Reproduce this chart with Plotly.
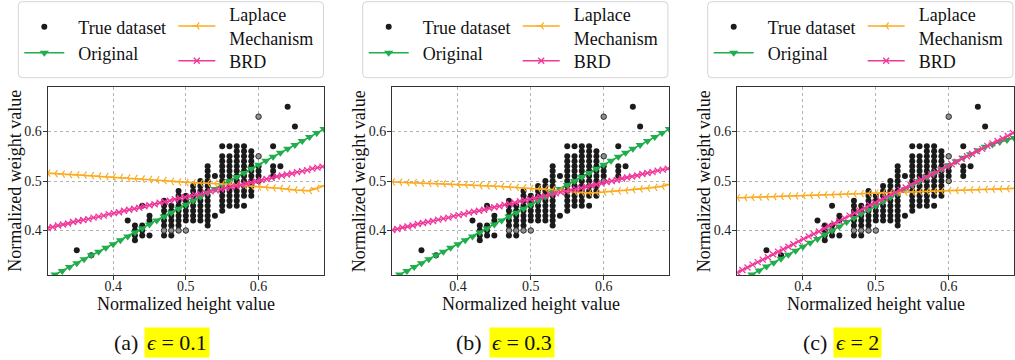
import plotly.graph_objects as go

# ---------------- data ----------------
true_height = [
    0.35, 0.37, 0.42,
    0.43, 0.43, 0.43, 0.43,
    0.44, 0.44, 0.44, 0.44,
    0.45, 0.45, 0.45,
    0.47, 0.47, 0.47, 0.47, 0.47, 0.47, 0.47,
    0.48, 0.48, 0.48, 0.48, 0.48, 0.48,
    0.49, 0.49, 0.49, 0.49, 0.49, 0.49, 0.49, 0.49,
    0.50, 0.50, 0.50, 0.50, 0.50, 0.50,
    0.51, 0.51, 0.51, 0.51, 0.51, 0.51, 0.51, 0.51,
    0.52, 0.52, 0.52, 0.52, 0.52, 0.52, 0.52, 0.52, 0.52,
    0.53, 0.53, 0.53, 0.53, 0.53, 0.53, 0.53, 0.53, 0.53, 0.53, 0.53, 0.53, 0.53,
    0.54, 0.54,
    0.55, 0.55, 0.55, 0.55, 0.55, 0.55, 0.55, 0.55, 0.55, 0.55, 0.55, 0.55, 0.55,
    0.56, 0.56, 0.56, 0.56, 0.56, 0.56, 0.56, 0.56, 0.56, 0.56, 0.56, 0.56,
    0.57, 0.57, 0.57, 0.57, 0.57, 0.57, 0.57, 0.57, 0.57, 0.57, 0.57, 0.57, 0.57,
    0.58, 0.58, 0.58, 0.58, 0.58, 0.58, 0.58, 0.58, 0.58, 0.58, 0.58, 0.58,
    0.59, 0.59, 0.59, 0.59, 0.59, 0.59, 0.59, 0.59, 0.59, 0.59,
    0.60, 0.60, 0.60,
    0.62, 0.62, 0.62, 0.62,
    0.63, 0.64, 0.65,
]
true_weight = [
    0.36, 0.35, 0.42,
    0.38, 0.39, 0.40, 0.41,
    0.39, 0.40, 0.41, 0.45,
    0.39, 0.42, 0.43,
    0.39, 0.41, 0.42, 0.43, 0.44, 0.45, 0.46,
    0.39, 0.41, 0.42, 0.43, 0.44, 0.45,
    0.41, 0.42, 0.43, 0.44, 0.45, 0.46, 0.47, 0.48,
    0.42, 0.43, 0.44, 0.45, 0.46, 0.47,
    0.42, 0.43, 0.44, 0.45, 0.46, 0.47, 0.48, 0.49,
    0.42, 0.43, 0.44, 0.45, 0.46, 0.47, 0.48, 0.49, 0.50,
    0.41, 0.42, 0.43, 0.44, 0.45, 0.46, 0.47, 0.48, 0.49, 0.50, 0.51, 0.52, 0.53,
    0.43, 0.51,
    0.44, 0.45, 0.46, 0.47, 0.48, 0.49, 0.50, 0.51, 0.52, 0.53, 0.54, 0.55, 0.57,
    0.45, 0.46, 0.47, 0.48, 0.49, 0.50, 0.51, 0.52, 0.53, 0.54, 0.55, 0.57,
    0.45, 0.46, 0.47, 0.48, 0.49, 0.50, 0.51, 0.52, 0.53, 0.54, 0.55, 0.56, 0.57,
    0.45, 0.47, 0.48, 0.49, 0.50, 0.51, 0.52, 0.53, 0.54, 0.55, 0.56, 0.57,
    0.47, 0.48, 0.49, 0.50, 0.51, 0.52, 0.53, 0.54, 0.55, 0.56,
    0.51, 0.52, 0.53,
    0.51, 0.52, 0.53, 0.57,
    0.53, 0.65, 0.61,
]
# points that appear only once (drawn lighter in the reference)
single_height = [0.47, 0.48, 0.49, 0.50, 0.60, 0.60, 0.60]
single_weight = [0.40, 0.40, 0.40, 0.40, 0.50, 0.55, 0.63]

grid_x = [0.31, 0.32, 0.33, 0.34, 0.35, 0.36, 0.37, 0.38, 0.39, 0.40,
          0.41, 0.42, 0.43, 0.44, 0.45, 0.46, 0.47, 0.48, 0.49, 0.50,
          0.51, 0.52, 0.53, 0.54, 0.55, 0.56, 0.57, 0.58, 0.59, 0.60,
          0.61, 0.62, 0.63, 0.64, 0.65, 0.66, 0.67, 0.68, 0.69]

original_ab = [0.303, 0.311, 0.318, 0.326, 0.334, 0.342, 0.350, 0.357, 0.365, 0.372,
               0.380, 0.388, 0.396, 0.404, 0.412, 0.420, 0.428, 0.436, 0.444, 0.452,
               0.460, 0.468, 0.476, 0.484, 0.492, 0.500, 0.508, 0.516, 0.525, 0.533,
               0.541, 0.549, 0.557, 0.565, 0.573, 0.581, 0.589, 0.597, 0.605]
original_c = [0.295, 0.303, 0.311, 0.319, 0.327, 0.335, 0.343, 0.351, 0.359, 0.367,
              0.375, 0.383, 0.392, 0.400, 0.408, 0.417, 0.425, 0.434, 0.442, 0.450,
              0.458, 0.467, 0.475, 0.483, 0.492, 0.500, 0.508, 0.516, 0.524, 0.532,
              0.540, 0.547, 0.554, 0.562, 0.569, 0.574, 0.579, 0.583, 0.587]

laplace_a = [0.516, 0.515, 0.514, 0.513, 0.5125, 0.512, 0.511, 0.510, 0.509, 0.508,
             0.507, 0.506, 0.505, 0.504, 0.503, 0.502, 0.501, 0.499, 0.498, 0.497,
             0.4965, 0.496, 0.4955, 0.495, 0.494, 0.493, 0.492, 0.491, 0.489, 0.488,
             0.487, 0.486, 0.485, 0.484, 0.482, 0.481, 0.4805, 0.485, 0.490]
laplace_b = [0.498, 0.4975, 0.497, 0.4965, 0.496, 0.4955, 0.495, 0.4945, 0.494, 0.493,
             0.4925, 0.492, 0.491, 0.4905, 0.490, 0.489, 0.488, 0.487, 0.486, 0.485,
             0.4845, 0.484, 0.483, 0.481, 0.480, 0.478, 0.4765, 0.476, 0.4765, 0.4775,
             0.479, 0.480, 0.481, 0.4825, 0.484, 0.4855, 0.487, 0.489, 0.493]
laplace_c = [0.4660, 0.4665, 0.4670, 0.4675, 0.4680, 0.4685, 0.4690, 0.4695, 0.4700, 0.4705,
             0.4710, 0.4715, 0.4720, 0.4725, 0.4730, 0.4735, 0.4740, 0.4745, 0.4750, 0.4755,
             0.4760, 0.4765, 0.4770, 0.4775, 0.4780, 0.4785, 0.4790, 0.4795, 0.4800, 0.4805,
             0.4810, 0.4815, 0.4820, 0.4825, 0.4830, 0.4835, 0.4840, 0.4845, 0.4850]

brd_x = [0.310, 0.317, 0.324, 0.331, 0.338, 0.345, 0.352, 0.359, 0.366, 0.373,
         0.380, 0.387, 0.394, 0.401, 0.408, 0.415, 0.422, 0.429, 0.436, 0.443,
         0.450, 0.457, 0.464, 0.471, 0.478, 0.485, 0.492, 0.499, 0.506, 0.513,
         0.520, 0.527, 0.534, 0.541, 0.548, 0.555, 0.562, 0.569, 0.576, 0.583,
         0.590, 0.597, 0.604, 0.611, 0.618, 0.625, 0.632, 0.639, 0.646, 0.653,
         0.660, 0.667, 0.674, 0.681, 0.688]
brd_a = [0.405, 0.407, 0.410, 0.412, 0.414, 0.417, 0.419, 0.421, 0.423, 0.426,
         0.428, 0.430, 0.433, 0.435, 0.437, 0.440, 0.442, 0.444, 0.446, 0.449,
         0.451, 0.453, 0.456, 0.458, 0.460, 0.463, 0.465, 0.467, 0.469, 0.472,
         0.474, 0.476, 0.479, 0.481, 0.483, 0.486, 0.488, 0.490, 0.492, 0.495,
         0.497, 0.499, 0.502, 0.504, 0.506, 0.509, 0.511, 0.513, 0.515, 0.518,
         0.520, 0.522, 0.525, 0.527, 0.529]
brd_b = [0.401, 0.403, 0.406, 0.408, 0.410, 0.413, 0.415, 0.417, 0.419, 0.422,
         0.424, 0.426, 0.429, 0.431, 0.433, 0.436, 0.438, 0.440, 0.442, 0.445,
         0.447, 0.449, 0.452, 0.454, 0.456, 0.459, 0.461, 0.463, 0.465, 0.468,
         0.470, 0.472, 0.475, 0.477, 0.479, 0.482, 0.484, 0.486, 0.488, 0.491,
         0.493, 0.495, 0.498, 0.500, 0.502, 0.505, 0.507, 0.509, 0.511, 0.514,
         0.516, 0.518, 0.521, 0.523, 0.525]
brd_c = [0.315, 0.320, 0.325, 0.331, 0.336, 0.341, 0.346, 0.352, 0.357, 0.362,
         0.367, 0.372, 0.378, 0.383, 0.388, 0.393, 0.398, 0.404, 0.409, 0.414,
         0.419, 0.425, 0.430, 0.435, 0.440, 0.445, 0.451, 0.456, 0.461, 0.466,
         0.472, 0.477, 0.482, 0.487, 0.492, 0.498, 0.503, 0.508, 0.513, 0.518,
         0.524, 0.529, 0.534, 0.539, 0.545, 0.550, 0.555, 0.560, 0.565, 0.571,
         0.576, 0.581, 0.586, 0.591, 0.597]

tick_vals = [0.4, 0.5, 0.6]
tick_text = ["0.4", "0.5", "0.6"]
x_title = "Normalized height value"
y_title = "Normalized weight value"
caption_tags = ["(a)", "(b)", "(c)"]
eps_values = ["0.1", "0.3", "2"]

assert len(true_height) == len(true_weight)

# ---------------- styling ----------------
W, H = 1015, 360
FONT = "Liberation Serif"
GREEN = "#1fae4b"
ORANGE = "#fbab1f"
PINK = "#f2369a"
DOT = "#1b1b1b"
NB = "\u00a0\u00a0"

plot_px = [(47.7, 324.0), (392.3, 669.3), (737.3, 1014.3)]
top_px, bot_px = 87.0, 275.0
panel_off = [0.0, 344.4, 689.4]


def PX(v):
    return v / W


def PY(v):
    return 1 - v / H


def rounded_box(x0, y0, x1, y1, r=4):
    p = (f"M{PX(x0 + r)},{PY(y0)} L{PX(x1 - r)},{PY(y0)} "
         f"Q{PX(x1)},{PY(y0)} {PX(x1)},{PY(y0 + r)} "
         f"L{PX(x1)},{PY(y1 - r)} Q{PX(x1)},{PY(y1)} {PX(x1 - r)},{PY(y1)} "
         f"L{PX(x0 + r)},{PY(y1)} Q{PX(x0)},{PY(y1)} {PX(x0)},{PY(y1 - r)} "
         f"L{PX(x0)},{PY(y0 + r)} Q{PX(x0)},{PY(y0)} {PX(x0 + r)},{PY(y0)} Z")
    return p


def legname(k):
    return "legend" if k == 1 else f"legend{k}"


fig = go.Figure()
layout = dict(
    width=W, height=H,
    margin=dict(l=0, r=0, t=0, b=0, autoexpand=False),
    paper_bgcolor="white", plot_bgcolor="white",
    font=dict(family=FONT, color="#111"),
    shapes=[], annotations=[],
)

originals = [original_ab, original_ab, original_c]
laplaces = [laplace_a, laplace_b, laplace_c]
brds = [brd_a, brd_b, brd_c]

for i in range(3):
    suf = "" if i == 0 else str(i + 1)
    xa, ya = "x" + suf, "y" + suf
    base = 4 * i
    off = panel_off[i]

    fig.add_trace(go.Scatter(
        x=true_height, y=true_weight, mode="markers", xaxis=xa, yaxis=ya,
        marker=dict(size=6, color=DOT), name=NB + "True dataset",
        legend=legname(base + 1)))
    fig.add_trace(go.Scatter(
        x=single_height, y=single_weight, mode="markers", xaxis=xa, yaxis=ya,
        marker=dict(size=5.5, color="#8e8e8e", line=dict(color="#2a2a2a", width=1)),
        showlegend=False, name="True dataset"))
    fig.add_trace(go.Scatter(
        x=grid_x, y=originals[i], mode="lines+markers", xaxis=xa, yaxis=ya,
        line=dict(color=GREEN, width=1.5),
        marker=dict(symbol="triangle-down", size=8, color=GREEN),
        name=NB + "Original", legend=legname(base + 2)))
    fig.add_trace(go.Scatter(
        x=grid_x, y=laplaces[i], mode="lines+markers", xaxis=xa, yaxis=ya,
        line=dict(color=ORANGE, width=1.5),
        marker=dict(symbol="y-left", size=6, color=ORANGE,
                    line=dict(color=ORANGE, width=1.2)),
        name=NB + "Laplace<br>" + NB + "Mechanism", legend=legname(base + 3)))
    fig.add_trace(go.Scatter(
        x=brd_x, y=brds[i], mode="lines+markers", xaxis=xa, yaxis=ya,
        line=dict(color=PINK, width=1.5),
        marker=dict(symbol="x-thin", size=6, color=PINK,
                    line=dict(color=PINK, width=1.3)),
        name=NB + "BRD", legend=legname(base + 4)))

    l, r = plot_px[i]
    axis_common = dict(
        range=[0.31, 0.69], tickvals=tick_vals, ticktext=tick_text,
        ticks="outside", ticklen=4, tickwidth=1, tickcolor="#333",
        showline=True, linecolor="#333", linewidth=1.3, mirror=True,
        showgrid=True, gridcolor="#b3b3b3", griddash="dot", gridwidth=1,
        zeroline=False, tickfont=dict(family=FONT, size=14, color="#222"),
    )
    layout["xaxis" + suf] = dict(
        axis_common, domain=[PX(l), PX(r)], anchor=ya, ticklabelstandoff=-6)
    layout["yaxis" + suf] = dict(
        axis_common, domain=[PY(bot_px), PY(top_px)], anchor=xa,
        ticklabelstandoff=-2)

    # axis titles as text placed beside the panel
    layout["annotations"].append(dict(
        xref="paper", yref="paper", x=PX((l + r) / 2), y=PY(303.5),
        xanchor="center", yanchor="middle", showarrow=False, text=x_title,
        borderpad=0, font=dict(family=FONT, size=18, color="#111")))
    layout["annotations"].append(dict(
        xref="paper", yref="paper", x=PX(l - 33), y=PY((top_px + bot_px) / 2),
        xanchor="center", yanchor="middle", showarrow=False, text=y_title,
        textangle=-90, borderpad=0, font=dict(family=FONT, size=18, color="#111")))

    # legend frame
    bx = 18.3 + off
    layout["shapes"].append(dict(
        type="path", xref="paper", yref="paper", layer="below",
        path=rounded_box(bx, 1.7, bx + 305.2, 77.7, r=4),
        line=dict(color="#d4d4d4", width=1), fillcolor="white"))

    leg_common = dict(xanchor="left", yanchor="middle", bgcolor="rgba(0,0,0,0)",
                      borderwidth=0, orientation="v",
                      font=dict(family=FONT, size=18, color="#111"))
    layout[legname(base + 1)] = dict(leg_common, x=PX(bx + 1), y=PY(27), itemwidth=40)
    layout[legname(base + 2)] = dict(leg_common, x=PX(bx + 1), y=PY(53), itemwidth=40)
    layout[legname(base + 3)] = dict(leg_common, x=PX(bx + 155), y=PY(26), itemwidth=37)
    layout[legname(base + 4)] = dict(leg_common, x=PX(bx + 155), y=PY(61), itemwidth=37)

# captions
cap_tag_right = [139.5, 484.0, 829.0]
cap_box_left = [144.3, 488.8, 832.5]
for i in range(3):
    layout["annotations"].append(dict(
        xref="paper", yref="paper", x=PX(cap_tag_right[i]), y=PY(342),
        xanchor="right", yanchor="middle", showarrow=False,
        text=caption_tags[i], font=dict(family=FONT, size=22, color="#111")))
    layout["annotations"].append(dict(
        xref="paper", yref="paper", x=PX(cap_box_left[i]), y=PY(342),
        xanchor="left", yanchor="middle", showarrow=False,
        text="<i>ϵ</i> = " + eps_values[i], bgcolor="#ffff00", borderpad=2,
        font=dict(family=FONT, size=22, color="#111")))

fig.update_layout(**layout)
fig.write_html("out.html")
